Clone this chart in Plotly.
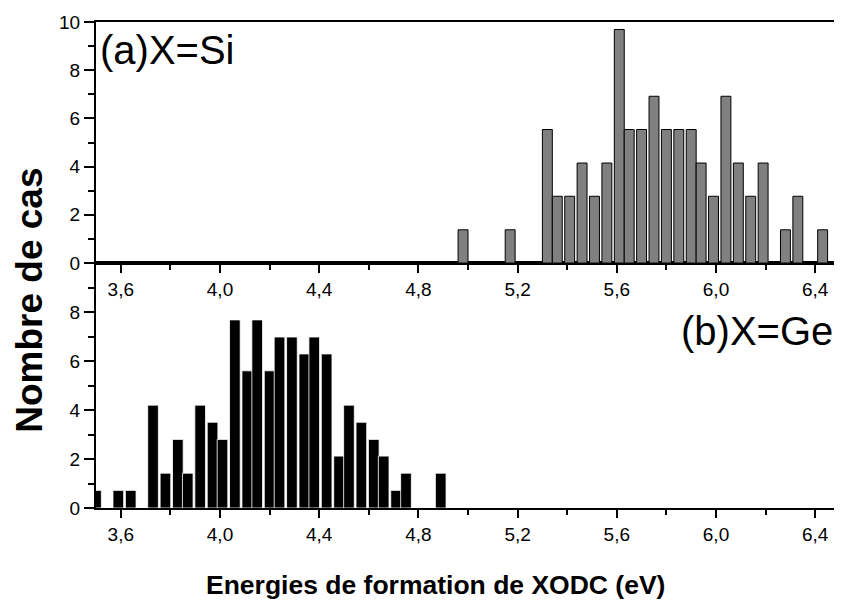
import plotly.graph_objects as go

# (a) X=Si
si_energie = [4.98, 5.17, 5.32, 5.36, 5.41, 5.46, 5.51, 5.56, 5.61, 5.65, 5.70, 5.75,
              5.80, 5.85, 5.90, 5.94, 5.99, 6.04, 6.09, 6.14, 6.19, 6.28, 6.33, 6.43]
si_cas = [1.38, 1.38, 5.54, 2.77, 2.77, 4.15, 2.77, 4.15, 9.69, 5.54, 5.54, 6.92,
          5.54, 5.54, 5.54, 4.15, 2.77, 6.92, 4.15, 2.77, 4.15, 1.38, 2.77, 1.38]

# (b) X=Ge
ge_energie = [3.50, 3.59, 3.64, 3.73, 3.78, 3.83, 3.87, 3.92, 3.97, 4.01, 4.06, 4.11,
              4.15, 4.20, 4.24, 4.29, 4.34, 4.38, 4.43, 4.48, 4.52, 4.57, 4.62, 4.66,
              4.71, 4.75, 4.89]
ge_cas = [0.72, 0.72, 0.72, 4.2, 1.42, 2.8, 1.42, 4.2, 3.5, 2.8, 7.68, 5.6,
          7.68, 5.6, 6.98, 6.98, 6.29, 6.98, 6.29, 2.12, 4.2, 3.5, 2.8, 2.12,
          0.72, 1.42, 1.42]

x_ticks = [3.6, 4.0, 4.4, 4.8, 5.2, 5.6, 6.0, 6.4]
FONT = "Arial, Liberation Sans, sans-serif"

fig = go.Figure()
fig.add_trace(go.Bar(x=si_energie, y=si_cas, width=0.04, xaxis="x2", yaxis="y2",
                     marker=dict(color="#808080", line=dict(color="black", width=1))))
fig.add_trace(go.Bar(x=ge_energie, y=ge_cas, width=0.043, xaxis="x", yaxis="y",
                     marker=dict(color="black", line=dict(color="white", width=0.8))))

xax = dict(range=[3.5, 6.5], tickvals=x_ticks, tickformat=".1f",
           ticks="outside", ticklen=8, tickwidth=2, tickcolor="black",
           minor=dict(dtick=0.2, tick0=3.6, ticks="outside", ticklen=5, tickwidth=2,
                      tickcolor="black"),
           showline=True, linewidth=2, linecolor="black", mirror=True,
           showgrid=False, zeroline=False,
           tickfont=dict(size=19, family=FONT, color="black"))
yax = dict(ticks="outside", ticklen=10, tickwidth=2, tickcolor="black",
           minor=dict(dtick=1, tick0=0, ticks="outside", ticklen=6, tickwidth=2,
                      tickcolor="black"),
           showline=True, linewidth=2, linecolor="black", mirror=True,
           showgrid=False, zeroline=False,
           tickfont=dict(size=19, family=FONT, color="black"))

# the page keeps an 8px body margin, so the figure is drawn 8px smaller
split = 0.504
fig.update_layout(
    width=834, height=594,
    margin=dict(l=88, r=2, t=14, b=94, autoexpand=False),
    paper_bgcolor="white", plot_bgcolor="white",
    showlegend=False, separators=",.",
    xaxis=dict(xax, anchor="y", domain=[0, 1]),
    yaxis=dict(yax, anchor="x", domain=[0, split], range=[0, 10],
               tickvals=[0, 2, 4, 6, 8]),
    xaxis2=dict(xax, anchor="y2", domain=[0, 1]),
    yaxis2=dict(yax, anchor="x2", domain=[split, 1], range=[0, 10],
                tickvals=[0, 2, 4, 6, 8, 10]),
    font=dict(family=FONT, color="black"),
)

fig.add_annotation(text="(a)X=Si", xref="paper", yref="paper", x=0.003, y=0.942,
                   xanchor="left", yanchor="middle", showarrow=False,
                   font=dict(size=40, family=FONT, color="black"))
fig.add_annotation(text="(b)X=Ge", xref="paper", yref="paper", x=0.993, y=0.364,
                   xanchor="right", yanchor="middle", showarrow=False,
                   font=dict(size=40, family=FONT, color="black"))
fig.add_annotation(text="<b>Energies de formation de XODC (eV)</b>", xref="paper",
                   yref="paper", x=0.456, y=-0.158, xanchor="center", yanchor="middle",
                   showarrow=False, font=dict(size=26.5, family=FONT, color="black"))
fig.add_annotation(text="<b>Nombre de cas</b>", xref="paper", yref="paper",
                   x=-0.089, y=0.428, xanchor="center", yanchor="middle", textangle=-90,
                   showarrow=False, font=dict(size=37, family=FONT, color="black"))

fig.write_html("out.html")
